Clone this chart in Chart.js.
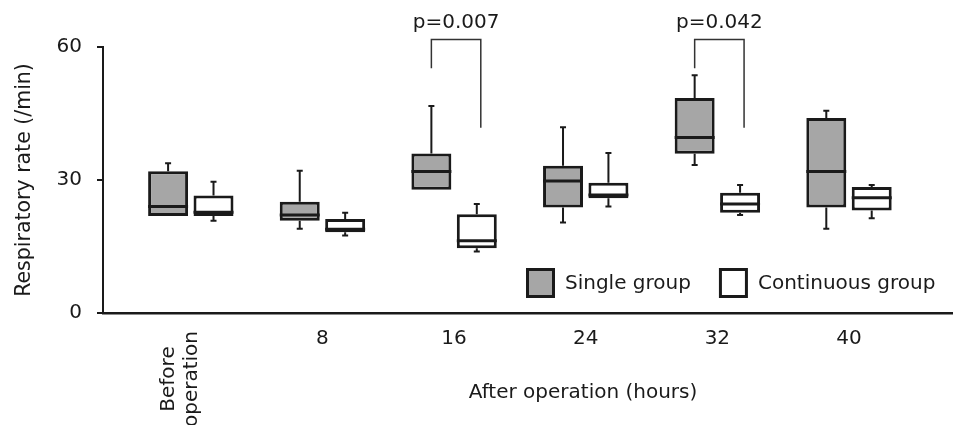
<!DOCTYPE html>
<html>
<head>
<meta charset="utf-8">
<script src="https://cdn.jsdelivr.net/npm/chart.js@4.4.1/dist/chart.umd.min.js"></script>
<style>
  html, body { margin: 0; padding: 0; background: #fff; }
  #wrap { width: 953px; height: 425px; position: relative; }
</style>
</head>
<body>
<div id="wrap"><canvas id="chart"></canvas></div>
<script>
// categories: 0 = before operation, then hours after operation
const timePoints = [0, 1, 2, 3, 4, 5];
const tickLabels = ['Before operation', '8', '16', '24', '32', '40'];
const seriesNames = ['Single group', 'Continuous group'];

// single group: min, q1, median, q3, max
const singleMin = [21.9, 19.0, 27.8, 20.4, 33.4, 19.0];
const singleQ1  = [21.9, 20.8, 27.8, 23.8, 35.9, 23.8];
const singleMed = [24.0, 22.1, 31.9, 29.8, 39.6, 31.9];
const singleQ3  = [32.0, 25.1, 36.0, 33.2, 48.5, 44.0];
const singleMax = [33.8, 32.1, 46.7, 41.9, 53.6, 45.6];

// continuous group
const contMin = [20.8, 17.5, 13.9, 24.0, 22.1, 21.4];
const contQ1  = [21.9, 18.2, 14.6, 25.9, 22.6, 23.1];
const contMed = [22.7, 18.9, 16.3, 26.6, 24.6, 26.0];
const contQ3  = [26.5, 21.2, 22.3, 29.4, 27.1, 28.4];
const contMax = [29.6, 22.6, 24.6, 36.1, 28.9, 28.9];

const yTicks = [0, 30, 60];

// significance brackets
const sigPoints = [2, 4];
const sigLabels = ['p=0.007', 'p=0.042'];
const sigTop = 61.7;
const sigLeftEnd = 55.2;
const sigRightEnd = 41.8;

const FONT = 'DejaVu Sans';
const INK = '#1a1a1a';
const fills = ['#a6a6a6', '#ffffff'];

const stats = [
    { min: singleMin, q1: singleQ1, med: singleMed, q3: singleQ3, max: singleMax },
    { min: contMin, q1: contQ1, med: contMed, q3: contQ3, max: contMax }
];

function boxData(s) {
    return timePoints.map((t, i) => ({ x: t, y: [s.q1[i], s.q3[i]] }));
}

const boxExtras = {
    id: 'boxExtras',
    beforeDatasetsDraw(chart) {
        // whiskers, drawn under the boxes
        const ctx = chart.ctx;
        const y = chart.scales.y;
        ctx.save();
        ctx.strokeStyle = INK;
        ctx.lineWidth = 2;
        stats.forEach((s, d) => {
            chart.getDatasetMeta(d).data.forEach((bar, i) => {
                const x = bar.x;
                const ends = [[s.q3[i], s.max[i]], [s.q1[i], s.min[i]]];
                ends.forEach(([from, to]) => {
                    if (Math.abs(to - from) < 0.2) return;
                    const p0 = y.getPixelForValue(from), p1 = y.getPixelForValue(to);
                    ctx.beginPath();
                    ctx.moveTo(x, p0);
                    ctx.lineTo(x, p1);
                    ctx.moveTo(x - 3, p1);
                    ctx.lineTo(x + 3, p1);
                    ctx.stroke();
                });
            });
        });
        ctx.restore();
    },
    afterDatasetsDraw(chart) {
        const ctx = chart.ctx;
        const x = chart.scales.x;
        const y = chart.scales.y;
        const area = chart.chartArea;
        ctx.save();

        // medians
        ctx.strokeStyle = INK;
        ctx.lineWidth = 3;
        stats.forEach((s, d) => {
            chart.getDatasetMeta(d).data.forEach((bar, i) => {
                const py = y.getPixelForValue(s.med[i]);
                ctx.beginPath();
                ctx.moveTo(bar.x - bar.width / 2, py);
                ctx.lineTo(bar.x + bar.width / 2, py);
                ctx.stroke();
            });
        });

        // brackets + p values
        ctx.strokeStyle = '#333';
        ctx.lineWidth = 1.5;
        ctx.fillStyle = INK;
        ctx.font = '20px ' + FONT;
        ctx.textAlign = 'center';
        ctx.textBaseline = 'alphabetic';
        sigPoints.forEach((idx, k) => {
            const left = chart.getDatasetMeta(0).data[idx].x;
            const right = chart.getDatasetMeta(1).data[idx].x + 4;
            const top = y.getPixelForValue(sigTop);
            ctx.beginPath();
            ctx.moveTo(left, y.getPixelForValue(sigLeftEnd));
            ctx.lineTo(left, top);
            ctx.lineTo(right, top);
            ctx.lineTo(right, y.getPixelForValue(sigRightEnd));
            ctx.stroke();
            ctx.fillText(sigLabels[k], (left + right) / 2, top - 11);
        });

        // legend in the lower right of the plot
        ctx.textAlign = 'left';
        ctx.textBaseline = 'middle';
        let lx = 526;
        const ly = area.bottom - 45;
        seriesNames.forEach((name, d) => {
            ctx.fillStyle = fills[d];
            ctx.fillRect(lx, ly, 29, 30);
            ctx.strokeStyle = INK;
            ctx.lineWidth = 3;
            ctx.strokeRect(lx + 1.5, ly + 1.5, 26, 27);
            ctx.fillStyle = INK;
            ctx.fillText(name, lx + 39, ly + 16);
            lx += 39 + ctx.measureText(name).width + 28;
        });

        // rotated first category label
        ctx.save();
        ctx.translate(x.getPixelForValue(0) - 11, 379);
        ctx.rotate(-Math.PI / 2);
        ctx.textAlign = 'center';
        const parts = tickLabels[0].split(' ');
        ctx.fillText(parts[0], 0, -11.5);
        ctx.fillText(parts[1], 0, 11.5);
        ctx.restore();

        // x axis title
        ctx.textAlign = 'center';
        ctx.fillText('After operation (hours)', 583, 393);
        ctx.restore();
    }
};

new Chart(document.getElementById('chart'), {
    type: 'bar',
    data: {
        datasets: stats.map((s, d) => ({
            label: seriesNames[d],
            data: boxData(s),
            backgroundColor: fills[d],
            borderColor: INK,
            borderWidth: 3,
            borderSkipped: false,
            categoryPercentage: 0.69,
            barPercentage: 0.88
        }))
    },
    options: {
        responsive: true,
        maintainAspectRatio: false,
        animation: false,
        events: [],
        layout: { padding: { top: 47, right: 0, bottom: 0, left: 0 } },
        plugins: { legend: { display: false }, tooltip: { enabled: false } },
        scales: {
            x: {
                type: 'linear',
                offset: false,
                min: -0.667,
                max: 5.79,
                afterBuildTicks: s => { s.ticks = timePoints.map(v => ({ value: v })); },
                afterFit: s => { s.height = 112; },
                grid: { display: false, drawTicks: false },
                border: { color: INK, width: 2.5 },
                ticks: {
                    padding: 14,
                    color: INK,
                    font: { family: FONT, size: 20 },
                    maxRotation: 0,
                    callback: v => (v === 0 ? '' : tickLabels[v])
                }
            },
            y: {
                min: 0,
                max: 60,
                afterBuildTicks: s => { s.ticks = yTicks.map(v => ({ value: v })); },
                afterFit: s => { s.width = 103; },
                grid: { display: true, drawOnChartArea: false, drawTicks: true, tickLength: 6, color: INK, lineWidth: 2 },
                border: { color: INK, width: 2 },
                ticks: { padding: 15, color: INK, font: { family: FONT, size: 20 } },
                title: {
                    display: true,
                    text: 'Respiratory rate (/min)',
                    color: INK,
                    font: { family: FONT, size: 20.5 },
                    padding: { top: 12, bottom: 0 }
                }
            }
        }
    },
    plugins: [boxExtras]
});
</script>
</body>
</html>
